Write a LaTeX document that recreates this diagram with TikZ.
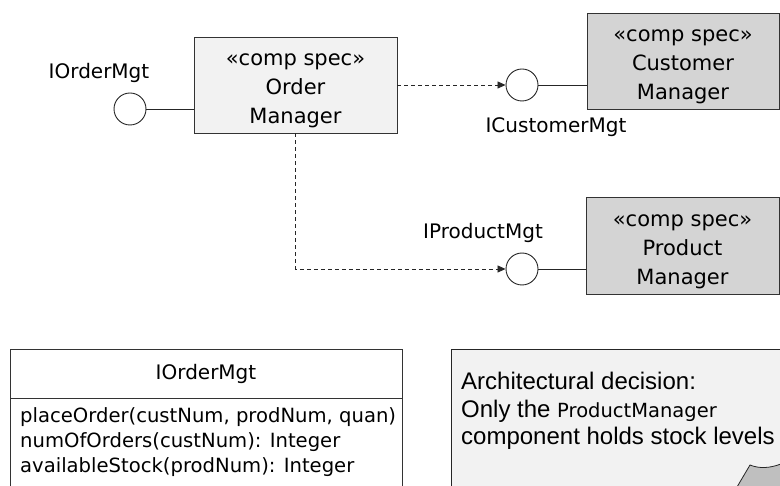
\documentclass[tikz,border=0pt]{standalone}
\usepackage{fontspec}
\setmainfont{DejaVu Sans}
\newfontfamily\arialfont{Liberation Sans}
\usetikzlibrary{arrows.meta}
\begin{document}
\begin{tikzpicture}[x=1pt,y=-1pt,
 comp/.style={draw=black!80, line width=0.9pt, rectangle, inner sep=0pt},
 ctext/.style={align=center, inner sep=0pt, font=\fontsize{21}{29}\selectfont},
 lollipop/.style={circle, draw=black!85, fill=white, minimum size=32pt, inner sep=0pt, line width=0.9pt},
 lbl/.style={font=\fontsize{20}{24}\selectfont, inner sep=0pt},
 dep/.style={draw=black!85, dash pattern=on 4pt off 3pt, line width=0.8pt, -{Triangle[length=8pt,width=7pt]}},
 conn/.style={draw=black!85, line width=0.9pt}]
\useasboundingbox (0,0) rectangle (780,486);
\clip (0,0) rectangle (780,486);

% components
\node[comp, fill=black!5, minimum width=203pt, minimum height=96pt] (om) at (295.5,85) {};
\node[ctext] (omt) at ([yshift=-5.5pt]om.center) {«comp spec»\\Order\\Manager};
\node[comp, fill=black!17, minimum width=192pt, minimum height=96pt] (cm) at (683,61) {};
\node[ctext] (cmt) at ([yshift=-5.5pt]cm.center) {«comp spec»\\Customer\\Manager};
\node[comp, fill=black!17, minimum width=193pt, minimum height=97pt] (pm) at (682.5,246) {};
\node[ctext] (pmt) at ([yshift=-5.5pt]pm.center) {«comp spec»\\Product\\Manager};

% interfaces
\node[lollipop] (io) at (130,109) {};
\node[lollipop] (ic) at (522,85) {};
\node[lollipop] (ip) at (522,269) {};

\node[lbl] (iol) at (99,73) {IOrderMgt};
\node[lbl] (icl) at (556,127) {ICustomerMgt};
\node[lbl] (ipl) at (483,233) {IProductMgt};

% connectors
\draw[conn] (io) -- (om.west |- io);
\draw[dep] (om) -- (ic);
\draw[conn] (ic) -- (cm.west |- ic);
\draw[dep] (om.south) |- (ip.west);
\draw[conn] (ip) -- (pm.west |- ip);

% interface class box
\node[draw=black!80, line width=0.9pt, minimum width=392pt, minimum height=160pt, anchor=north west, inner sep=0pt] (ifc) at (10,349) {};
\coordinate (divl) at (10,398);
\coordinate (divr) at (402,398);
\draw[draw=black!80, line width=0.9pt] (divl) -- (divr);
\node[lbl] (ifch) at (206,374) {IOrderMgt};
\node[anchor=west, align=left, inner sep=0pt, font=\fontsize{19.6}{25}\selectfont] (ifcm) at (20,442)
  {placeOrder(custNum, prodNum, quan)\\numOfOrders(custNum): Integer\\availableStock(prodNum): Integer};

% note
\node[draw=black!85, fill=black!5, line width=0.9pt, minimum width=360pt, minimum height=160pt, anchor=north west, inner sep=0pt] (note) at (451,349) {};
\node[anchor=west, align=left, inner sep=0pt, font=\arialfont\fontsize{24}{27.5}\selectfont] (notet) at (461,411)
  {Architectural decision:\\Only the {\rmfamily\fontsize{19.5}{27.5}\selectfont ProductManager}\\component holds stock levels};
\filldraw[fill=black!25, draw=black!85, line width=0.8pt] (737,487) -- (750,465) .. controls (760,469) and (770,468) .. (781,464) -- (781,487) -- cycle;
\end{tikzpicture}
\end{document}
